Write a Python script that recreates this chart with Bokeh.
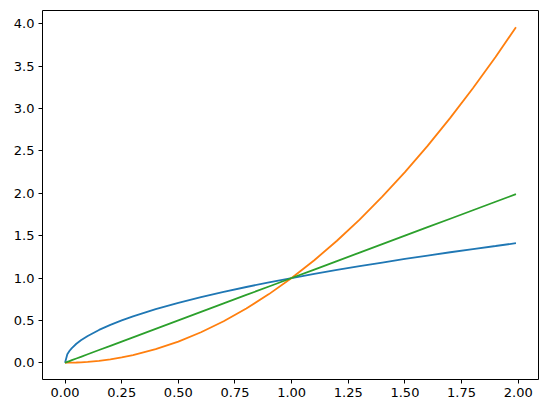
from bokeh.plotting import figure
from bokeh.models import Range1d, FixedTicker, PrintfTickFormatter
from bokeh.embed import file_html
from bokeh.resources import INLINE

# Data
x_vals = [0.0, 0.01, 0.02, 0.03, 0.05, 0.07, 0.1, 0.15, 0.2, 0.25, 0.3, 0.4, 0.5,
          0.6, 0.7, 0.8, 0.9, 1.0, 1.1, 1.2, 1.3, 1.4, 1.5, 1.6, 1.7, 1.8, 1.9, 1.99]
sqrt_vals = [0.0, 0.1, 0.141, 0.173, 0.224, 0.265, 0.316, 0.387, 0.447, 0.5, 0.548,
             0.632, 0.707, 0.775, 0.837, 0.894, 0.949, 1.0, 1.049, 1.095, 1.140,
             1.183, 1.225, 1.265, 1.304, 1.342, 1.378, 1.411]
square_vals = [0.0, 0.0001, 0.0004, 0.0009, 0.0025, 0.0049, 0.01, 0.0225, 0.04,
               0.0625, 0.09, 0.16, 0.25, 0.36, 0.49, 0.64, 0.81, 1.0, 1.21, 1.44,
               1.69, 1.96, 2.25, 2.56, 2.89, 3.24, 3.61, 3.96]
linear_vals = [0.0, 0.01, 0.02, 0.03, 0.05, 0.07, 0.1, 0.15, 0.2, 0.25, 0.3, 0.4,
               0.5, 0.6, 0.7, 0.8, 0.9, 1.0, 1.1, 1.2, 1.3, 1.4, 1.5, 1.6, 1.7, 1.8,
               1.9, 1.99]
x_ticks = [0.0, 0.25, 0.5, 0.75, 1.0, 1.25, 1.5, 1.75, 2.0]
y_ticks = [0.0, 0.5, 1.0, 1.5, 2.0, 2.5, 3.0, 3.5, 4.0]

p = figure(width=547, height=413, output_backend="svg", toolbar_location=None,
           x_range=Range1d(-0.0995, 2.0895), y_range=Range1d(-0.198, 4.158),
           min_border_left=42, min_border_right=9, min_border_top=10,
           min_border_bottom=34)
p.background_fill_color = "white"
p.border_fill_color = "white"
p.outline_line_color = "black"
p.outline_line_width = 1
p.grid.visible = False

p.line(x_vals, sqrt_vals, line_color="#1f77b4", line_width=1.8)
p.line(x_vals, square_vals, line_color="#ff7f0e", line_width=1.8)
p.line(x_vals, linear_vals, line_color="#2ca02c", line_width=1.8)

p.xaxis.ticker = FixedTicker(ticks=x_ticks)
p.yaxis.ticker = FixedTicker(ticks=y_ticks)
p.xaxis.formatter = PrintfTickFormatter(format="%.2f")
p.yaxis.formatter = PrintfTickFormatter(format="%.1f")
for ax in (p.xaxis, p.yaxis):
    ax.axis_line_color = None
    ax.major_tick_line_color = "black"
    ax.major_tick_line_width = 1
    ax.major_tick_out = 4
    ax.major_tick_in = 0
    ax.minor_tick_line_color = None
    ax.major_label_text_font = "DejaVu Sans"
    ax.major_label_text_font_size = "13px"
    ax.major_label_text_color = "black"
    ax.major_label_standoff = 4

open("out.html", "w").write(file_html(p, INLINE))
